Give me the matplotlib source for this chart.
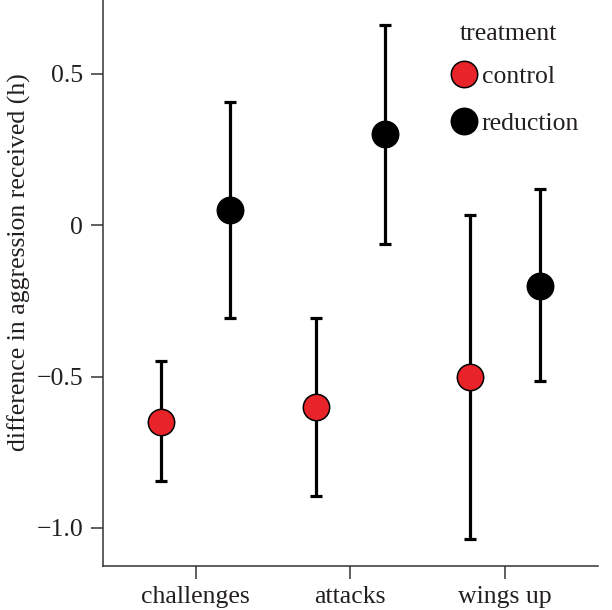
import numpy as np
import matplotlib
matplotlib.use('agg')
import matplotlib.pyplot as plt

categories = ['challenges', 'attacks', 'wings up']
treatments = ['control', 'reduction']
colors = {'control': '#e8232a', 'reduction': '#000000'}

control_mean = [-0.65, -0.60, -0.50]
control_low = [-0.845, -0.893, -1.035]
control_high = [-0.45, -0.307, 0.033]

reduction_mean = [0.05, 0.30, -0.20]
reduction_low = [-0.305, -0.061, -0.514]
reduction_high = [0.406, 0.661, 0.121]

plt.rcParams['font.family'] = ['Liberation Serif', 'DejaVu Serif']
txt = '#231f20'

fig = plt.figure(figsize=(6.12, 6.10), dpi=100)
ax = fig.add_axes([0.168, 0.072, 0.809, 0.928])

x = np.arange(1, len(categories) + 1)
dodge = 0.225
series = {
    'control': (control_mean, control_low, control_high, -dodge),
    'reduction': (reduction_mean, reduction_low, reduction_high, dodge),
}
for name in treatments:
    mean, low, high, off = series[name]
    mean = np.array(mean)
    yerr = [mean - np.array(low), np.array(high) - mean]
    ax.errorbar(x + off, mean, yerr=yerr, fmt='none', ecolor='black',
                elinewidth=2.3, capsize=4, capthick=2.3, zorder=2)
    ax.plot(x + off, mean, 'o', ms=19, mfc=colors[name], mec='black',
            mew=1.1, zorder=3, label=name, linestyle='none')

ax.set_xlim(0.4, 3.6)
ax.set_ylim(-1.126, 0.744)
ax.set_xticks(x)
ax.set_xticklabels(categories)
ax.set_yticks([-1.0, -0.5, 0, 0.5])
ax.set_yticklabels(['\u22121.0', '\u22120.5', '0', '0.5'])
ax.set_ylabel('difference in aggression received (h)', fontsize=18.5,
              color=txt, labelpad=6)
ax.yaxis.set_label_coords(-0.145, 0.537)

for s in ['top', 'right']:
    ax.spines[s].set_visible(False)
for s in ['left', 'bottom']:
    ax.spines[s].set_linewidth(1.1)
    ax.spines[s].set_color('#333333')
ax.tick_params(direction='out', length=9, width=1.1, color='#333333',
               labelsize=18.5, labelcolor=txt, pad=5)

leg = ax.legend(title='treatment', loc='upper left', frameon=False,
                bbox_to_anchor=(0.63, 1.0), fontsize=18.5, title_fontsize=18.5,
                handletextpad=-0.3, labelspacing=0.95, markerscale=1.0)
leg._legend_box.sep = 14
for t in leg.get_texts():
    t.set_color(txt)
leg.get_title().set_color(txt)

fig.savefig('out.png', dpi=100)
